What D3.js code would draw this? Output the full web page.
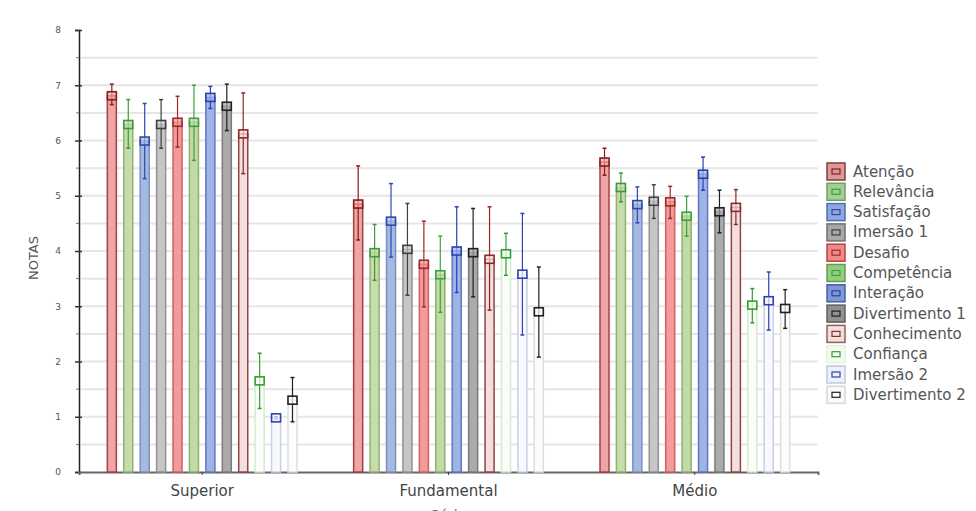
<!DOCTYPE html>
<html>
<head>
<meta charset="utf-8">
<script src="https://cdn.jsdelivr.net/npm/d3@7"></script>
<style>
 body { margin: 0; background: #fff; }
 .chart text { font-family: "DejaVu Sans", sans-serif; }
</style>
</head>
<body>
<div class="chart"></div>
<script>
// dados
var groups = ["Superior", "Fundamental", "Médio"];
var series = ["Atenção", "Relevância", "Satisfação", "Imersão 1", "Desafio", "Competência",
              "Interação", "Divertimento 1", "Conhecimento", "Confiança", "Imersão 2", "Divertimento 2"];

// médias por grupo (mesma ordem de series)
var meanSuperior    = [6.81, 6.29, 5.99, 6.29, 6.33, 6.33, 6.78, 6.62, 6.12, 1.65, 0.98, 1.30];
var meanFundamental = [4.85, 3.97, 4.54, 4.03, 3.76, 3.57, 4.00, 3.97, 3.85, 3.95, 3.58, 2.90];
var meanMedio       = [5.61, 5.15, 4.84, 4.90, 4.89, 4.63, 5.39, 4.71, 4.79, 3.02, 3.10, 2.96];

// limites superiores das barras de erro
var hiSuperior    = [7.02, 6.74, 6.67, 6.74, 6.80, 7.00, 6.98, 7.02, 6.86, 2.15, 1.00, 1.71];
var hiFundamental = [5.54, 4.48, 5.22, 4.86, 4.54, 4.27, 4.80, 4.77, 4.80, 4.32, 4.68, 3.71];
var hiMedio       = [5.86, 5.41, 5.16, 5.20, 5.17, 4.99, 5.70, 5.10, 5.11, 3.32, 3.62, 3.30];

// limites inferiores das barras de erro
var loSuperior    = [6.65, 5.86, 5.31, 5.86, 5.88, 5.64, 6.58, 6.18, 5.40, 1.15, 0.96, 0.91];
var loFundamental = [4.20, 3.47, 3.89, 3.20, 2.99, 2.89, 3.25, 3.17, 2.93, 3.56, 2.48, 2.08];
var loMedio       = [5.37, 4.89, 4.51, 4.59, 4.59, 4.27, 5.10, 4.33, 4.48, 2.70, 2.57, 2.60];

var yTicks = [0, 1, 2, 3, 4, 5, 6, 7, 8];

// cores: preenchimento da barra, borda da barra, cor da média/erro
var barFill   = ["#eda5a5", "#c6dcaa", "#a6badf", "#c6c6c6", "#f39a9a", "#c2daa6",
                 "#9fb3e6", "#ababab", "#f4dede", "#fbfdf8", "#f8f9fd", "#fcfcfc"];
var barStroke = ["#a84040", "#92b272", "#7890c2", "#929292", "#d06262", "#8eb070",
                 "#6078c0", "#7c7c7c", "#8e4646", "#d8ead0", "#c8d0e8", "#dedede"];
var markColor = ["#8b1a1a", "#3c9a3c", "#3048b0", "#404040", "#a02828", "#40a040",
                 "#2840b0", "#202020", "#902828", "#30a030", "#3040b0", "#202020"];
var legFill   = ["#d99a9a", "#a2d092", "#8fa8dc", "#a8a8a8", "#f08a8a", "#94cc84",
                 "#8098d0", "#909090", "#f0e0dc", "#f4fbf0", "#eef1fa", "#fafafa"];
var legStroke = ["#8a3a3a", "#70a060", "#5070b0", "#707070", "#c04040", "#60a050",
                 "#4060a8", "#606060", "#906060", "#e4f2dc", "#c0c8e0", "#d8d8d8"];

var means = [meanSuperior, meanFundamental, meanMedio];
var his = [hiSuperior, hiFundamental, hiMedio];
var los = [loSuperior, loFundamental, loMedio];

// tabela plana
var data = [];
groups.forEach(function (g, gi) {
  series.forEach(function (s, si) {
    data.push({ group: g, serie: s, i: si, mean: means[gi][si], hi: his[gi][si], lo: los[gi][si] });
  });
});

var width = 976, height = 511;
var mLeft = 79, mRight = 818, mTop = 30, mBottom = 472;

var xScale = d3.scaleBand().domain(groups).range([mLeft, mRight]);
var xInner = d3.scaleBand().domain(series).range([0, xScale.bandwidth()])
               .paddingInner(0.45).paddingOuter(1.725);
var yScale = d3.scaleLinear().domain([0, 8]).range([mBottom, mTop]);

var svg = d3.select(".chart").append("svg")
            .attr("width", width)
            .attr("height", height);

// linhas de grade a cada 0.5
svg.append("g")
   .selectAll("line")
   .data(d3.range(0.5, 8, 0.5))
   .enter().append("line")
   .attr("x1", mLeft + 2).attr("x2", mRight)
   .attr("y1", function (d) { return yScale(d); })
   .attr("y2", function (d) { return yScale(d); })
   .attr("stroke", "#e6e6e6")
   .attr("stroke-width", 2);

// eixo y
var yAxis = d3.axisLeft(yScale).tickValues(yTicks).tickFormat(d3.format("d")).tickSize(4).tickPadding(14);
var gy = svg.append("g")
   .attr("transform", "translate(" + mLeft + ",0)")
   .call(yAxis);
gy.select(".domain").attr("stroke", "#222").attr("stroke-width", 1.5);
gy.selectAll(".tick line").attr("stroke", "#333").attr("stroke-width", 1.5).attr("x2", 3).attr("x1", -4);
gy.selectAll(".tick text").attr("font-size", 9).attr("fill", "#555");

// marcas menores
svg.append("g")
   .selectAll("line")
   .data(d3.range(0.5, 8, 1))
   .enter().append("line")
   .attr("x1", mLeft - 3).attr("x2", mLeft)
   .attr("y1", function (d) { return yScale(d); })
   .attr("y2", function (d) { return yScale(d); })
   .attr("stroke", "#777");

// eixo x
var xAxis = d3.axisBottom(xScale).tickSize(3).tickPadding(10);
var gx = svg.append("g")
   .attr("transform", "translate(0," + mBottom + ")")
   .call(xAxis);
gx.select(".domain").attr("stroke", "#666").attr("stroke-width", 2);
gx.selectAll(".tick line").attr("stroke", "#444");
gx.selectAll(".tick text").attr("font-size", 15).attr("fill", "#444");

// barras
var bw = xInner.bandwidth();
svg.append("g")
   .selectAll("rect")
   .data(data)
   .enter().append("rect")
   .attr("x", function (d) { return xScale(d.group) + xInner(d.serie); })
   .attr("y", function (d) { return yScale(d.mean); })
   .attr("width", bw)
   .attr("height", function (d) { return mBottom - yScale(d.mean); })
   .attr("fill", function (d) { return barFill[d.i]; })
   .attr("stroke", function (d) { return barStroke[d.i]; })
   .attr("stroke-width", 1.5);

// barras de erro
var eb = svg.append("g").selectAll("g")
   .data(data)
   .enter().append("g")
   .attr("transform", function (d) { return "translate(" + (xScale(d.group) + xInner(d.serie) + bw / 2) + ",0)"; });

eb.append("line")
  .attr("y1", function (d) { return yScale(d.hi); })
  .attr("y2", function (d) { return yScale(d.lo); })
  .attr("stroke", function (d) { return markColor[d.i]; })
  .attr("stroke-width", 1.2);
eb.append("line")
  .attr("x1", -2).attr("x2", 2)
  .attr("y1", function (d) { return yScale(d.hi); })
  .attr("y2", function (d) { return yScale(d.hi); })
  .attr("stroke", function (d) { return markColor[d.i]; })
  .attr("stroke-width", 1.5);
eb.append("line")
  .attr("x1", -2).attr("x2", 2)
  .attr("y1", function (d) { return yScale(d.lo); })
  .attr("y2", function (d) { return yScale(d.lo); })
  .attr("stroke", function (d) { return markColor[d.i]; })
  .attr("stroke-width", 1.5);

// marcador da média
eb.append("rect")
  .attr("x", -4.5).attr("width", 9)
  .attr("y", function (d) { return yScale(d.mean) - 4; })
  .attr("height", 8)
  .attr("fill", function (d) { return barFill[d.i]; })
  .attr("fill-opacity", 0.7)
  .attr("stroke", function (d) { return markColor[d.i]; })
  .attr("stroke-width", 1.6);

// título eixo y
svg.append("text")
   .attr("transform", "translate(38,258) rotate(-90)")
   .attr("text-anchor", "middle")
   .attr("font-size", 13)
   .attr("fill", "#555")
   .text("NOTAS");

// título eixo x (cortado na borda, como no original)
svg.append("text")
   .attr("x", (mLeft + mRight) / 2)
   .attr("y", 520)
   .attr("text-anchor", "middle")
   .attr("font-size", 14)
   .attr("fill", "#666")
   .text("Série");

// legenda
var leg = svg.append("g")
   .selectAll("g")
   .data(series)
   .enter().append("g")
   .attr("transform", function (d, i) { return "translate(827," + (163 + i * 20.3) + ")"; });

leg.append("rect")
   .attr("width", 18).attr("height", 17)
   .attr("fill", function (d, i) { return legFill[i]; })
   .attr("stroke", function (d, i) { return legStroke[i]; })
   .attr("stroke-width", 1.5);
leg.append("rect")
   .attr("x", 5).attr("y", 6).attr("width", 8).attr("height", 5)
   .attr("fill", "none")
   .attr("stroke", function (d, i) { return markColor[i]; })
   .attr("stroke-width", 1.2);
leg.append("text")
   .attr("x", 26).attr("y", 13.5)
   .attr("font-size", 15)
   .attr("fill", "#555")
   .text(function (d) { return d; });
</script>
</body>
</html>
